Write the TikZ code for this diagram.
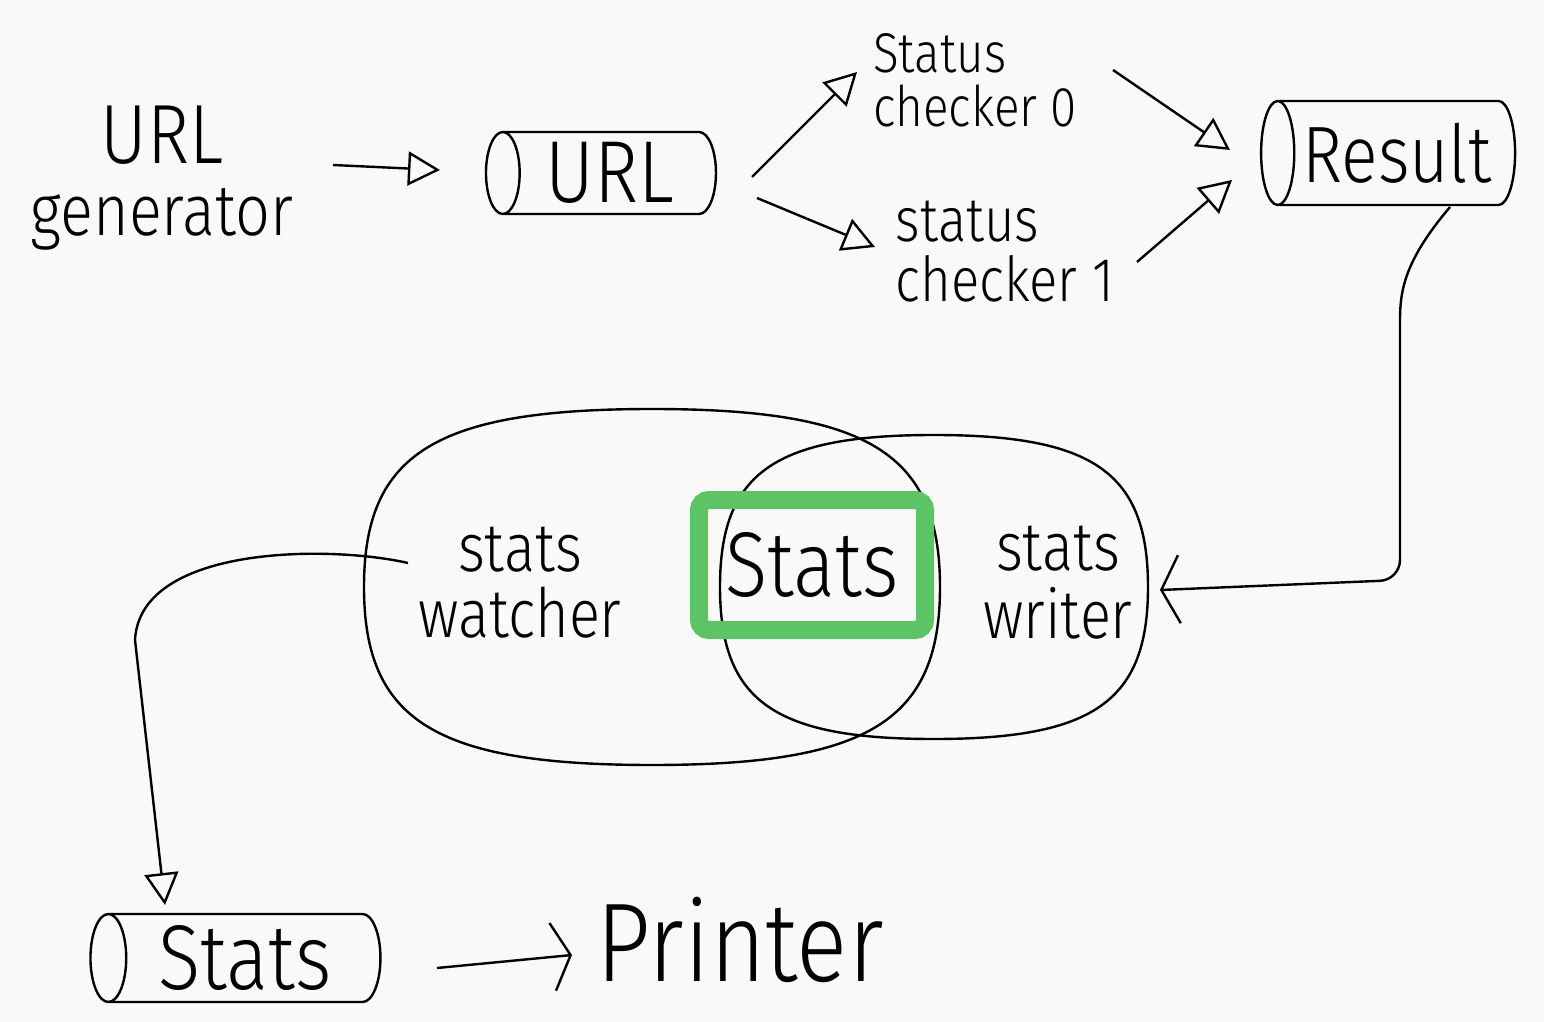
\documentclass[tikz,border=0pt]{standalone}
\usepackage{fontspec}
\IfFontExistsTF{Fira Sans Light}
  {\setmainfont{Fira Sans Light}[FakeStretch=0.85]}
  {\setmainfont{Fira Sans}[FakeStretch=0.85]}
\usetikzlibrary{arrows.meta,positioning,calc,shapes.geometric}
\definecolor{paper}{RGB}{249,249,249}
\definecolor{storegreen}{RGB}{92,196,100}

\tikzset{
  ink/.style={line width=1.2pt, black},
  tri/.style={ink, -{Triangle[open,length=16pt,width=17pt,line width=1.2pt]}},
  barb/.style={ink, -{Straight Barb[length=9pt,width=34pt,line width=1.2pt]}},
  queue/.style={cylinder, shape border rotate=180, aspect=0.55, draw, ink, inner sep=0pt},
  label/.style={align=center, inner sep=1pt},
}

\begin{document}
\begin{tikzpicture}[x=0.5pt, y=-0.5pt]
    \fill[paper] (0,0) rectangle (1544,1022);
    \useasboundingbox (0,0) rectangle (1544,1022);

    % top row: generator, url queue, checkers, result queue
    \node[label, font=\fontsize{36}{36}\selectfont] (gen) at (162,178)
        {{\fontsize{42}{36}\selectfont URL}\\generator};
    \node[queue, minimum height=115pt, minimum width=41pt,
          font=\fontsize{44}{44}\selectfont] (urlq) at (610,173) {URL};
    \node[label, align=left, font=\fontsize{28}{27}\selectfont] (check0) at (975,80)
        {Status\\checker 0};
    \node[label, align=left, font=\fontsize{31}{30}\selectfont] (check1) at (1005,252)
        {status\\checker 1};
    \node[queue, minimum height=127pt, minimum width=52pt,
          font=\fontsize{40}{40}\selectfont] (result) at (1397,153) {Result};

    \draw[tri] ($(gen)+(171,-13)$) -- ($(urlq)+(-170,-3)$);
    \draw[tri] ($(urlq)+(142,4)$) -- ($(check0)+(-118,-8)$);
    \draw[tri] ($(urlq)+(147,25)$) -- ($(check1)+(-130,-5)$);
    \draw[tri] ($(check0)+(138,-10)$) -- ($(result)+(-167,-3)$);
    \draw[tri] ($(check1)+(132,10)$) -- ($(result)+(-165,27)$);

    % middle: watcher and writer around the stats store
    \coordinate (watcherc) at (652,587);
    \coordinate (writerc) at (934,587);
    \draw[ink] ($(watcherc)+(-288,0)$) .. controls +(0,-134) and +(-216,0) .. ($(watcherc)+(0,-178)$)
        .. controls +(216,0) and +(0,-134) .. ($(watcherc)+(288,0)$)
        .. controls +(0,134) and +(216,0) .. ($(watcherc)+(0,178)$)
        .. controls +(-216,0) and +(0,134) .. cycle;
    \draw[ink] ($(writerc)+(-214,0)$) .. controls +(0,-114) and +(-160,0) .. ($(writerc)+(0,-152)$)
        .. controls +(160,0) and +(0,-114) .. ($(writerc)+(214,0)$)
        .. controls +(0,114) and +(160,0) .. ($(writerc)+(0,152)$)
        .. controls +(-160,0) and +(0,114) .. cycle;
    \node[draw=storegreen, line width=9pt, rounded corners=5pt,
          minimum width=113pt, minimum height=65pt,
          font=\fontsize{46}{46}\selectfont] (store) at (812,565) {Stats};
    \node[label, font=\fontsize{34}{33}\selectfont] (watcher) at (520,583) {stats\\watcher};
    \node[label, font=\fontsize{34}{34}\selectfont] (writer) at (1058,583) {stats\\writer};

    \draw[barb, rounded corners=10pt] ($(result)+(53,54)$)
        .. controls (1405,260) and (1400,290) .. (1400,340)
        -- (1400,580) -- ($(writerc)+(226,3)$);

    % bottom row
    \node[queue, minimum height=145pt, minimum width=44pt,
          font=\fontsize{46}{46}\selectfont] (statsq) at (245,958) {Stats};
    \node[label, font=\fontsize{56}{56}\selectfont] (printer) at (740,940) {Printer};

    \draw[tri] ($(watcher)+(-112,-20)$)
        .. controls (330,545) and (140,545) .. (135,640)
        -- ($(statsq)+(-80,-53)$);
    \draw[barb] ($(statsq)+(192,10)$) -- ($(printer)+(-168,15)$);
\end{tikzpicture}
\end{document}
